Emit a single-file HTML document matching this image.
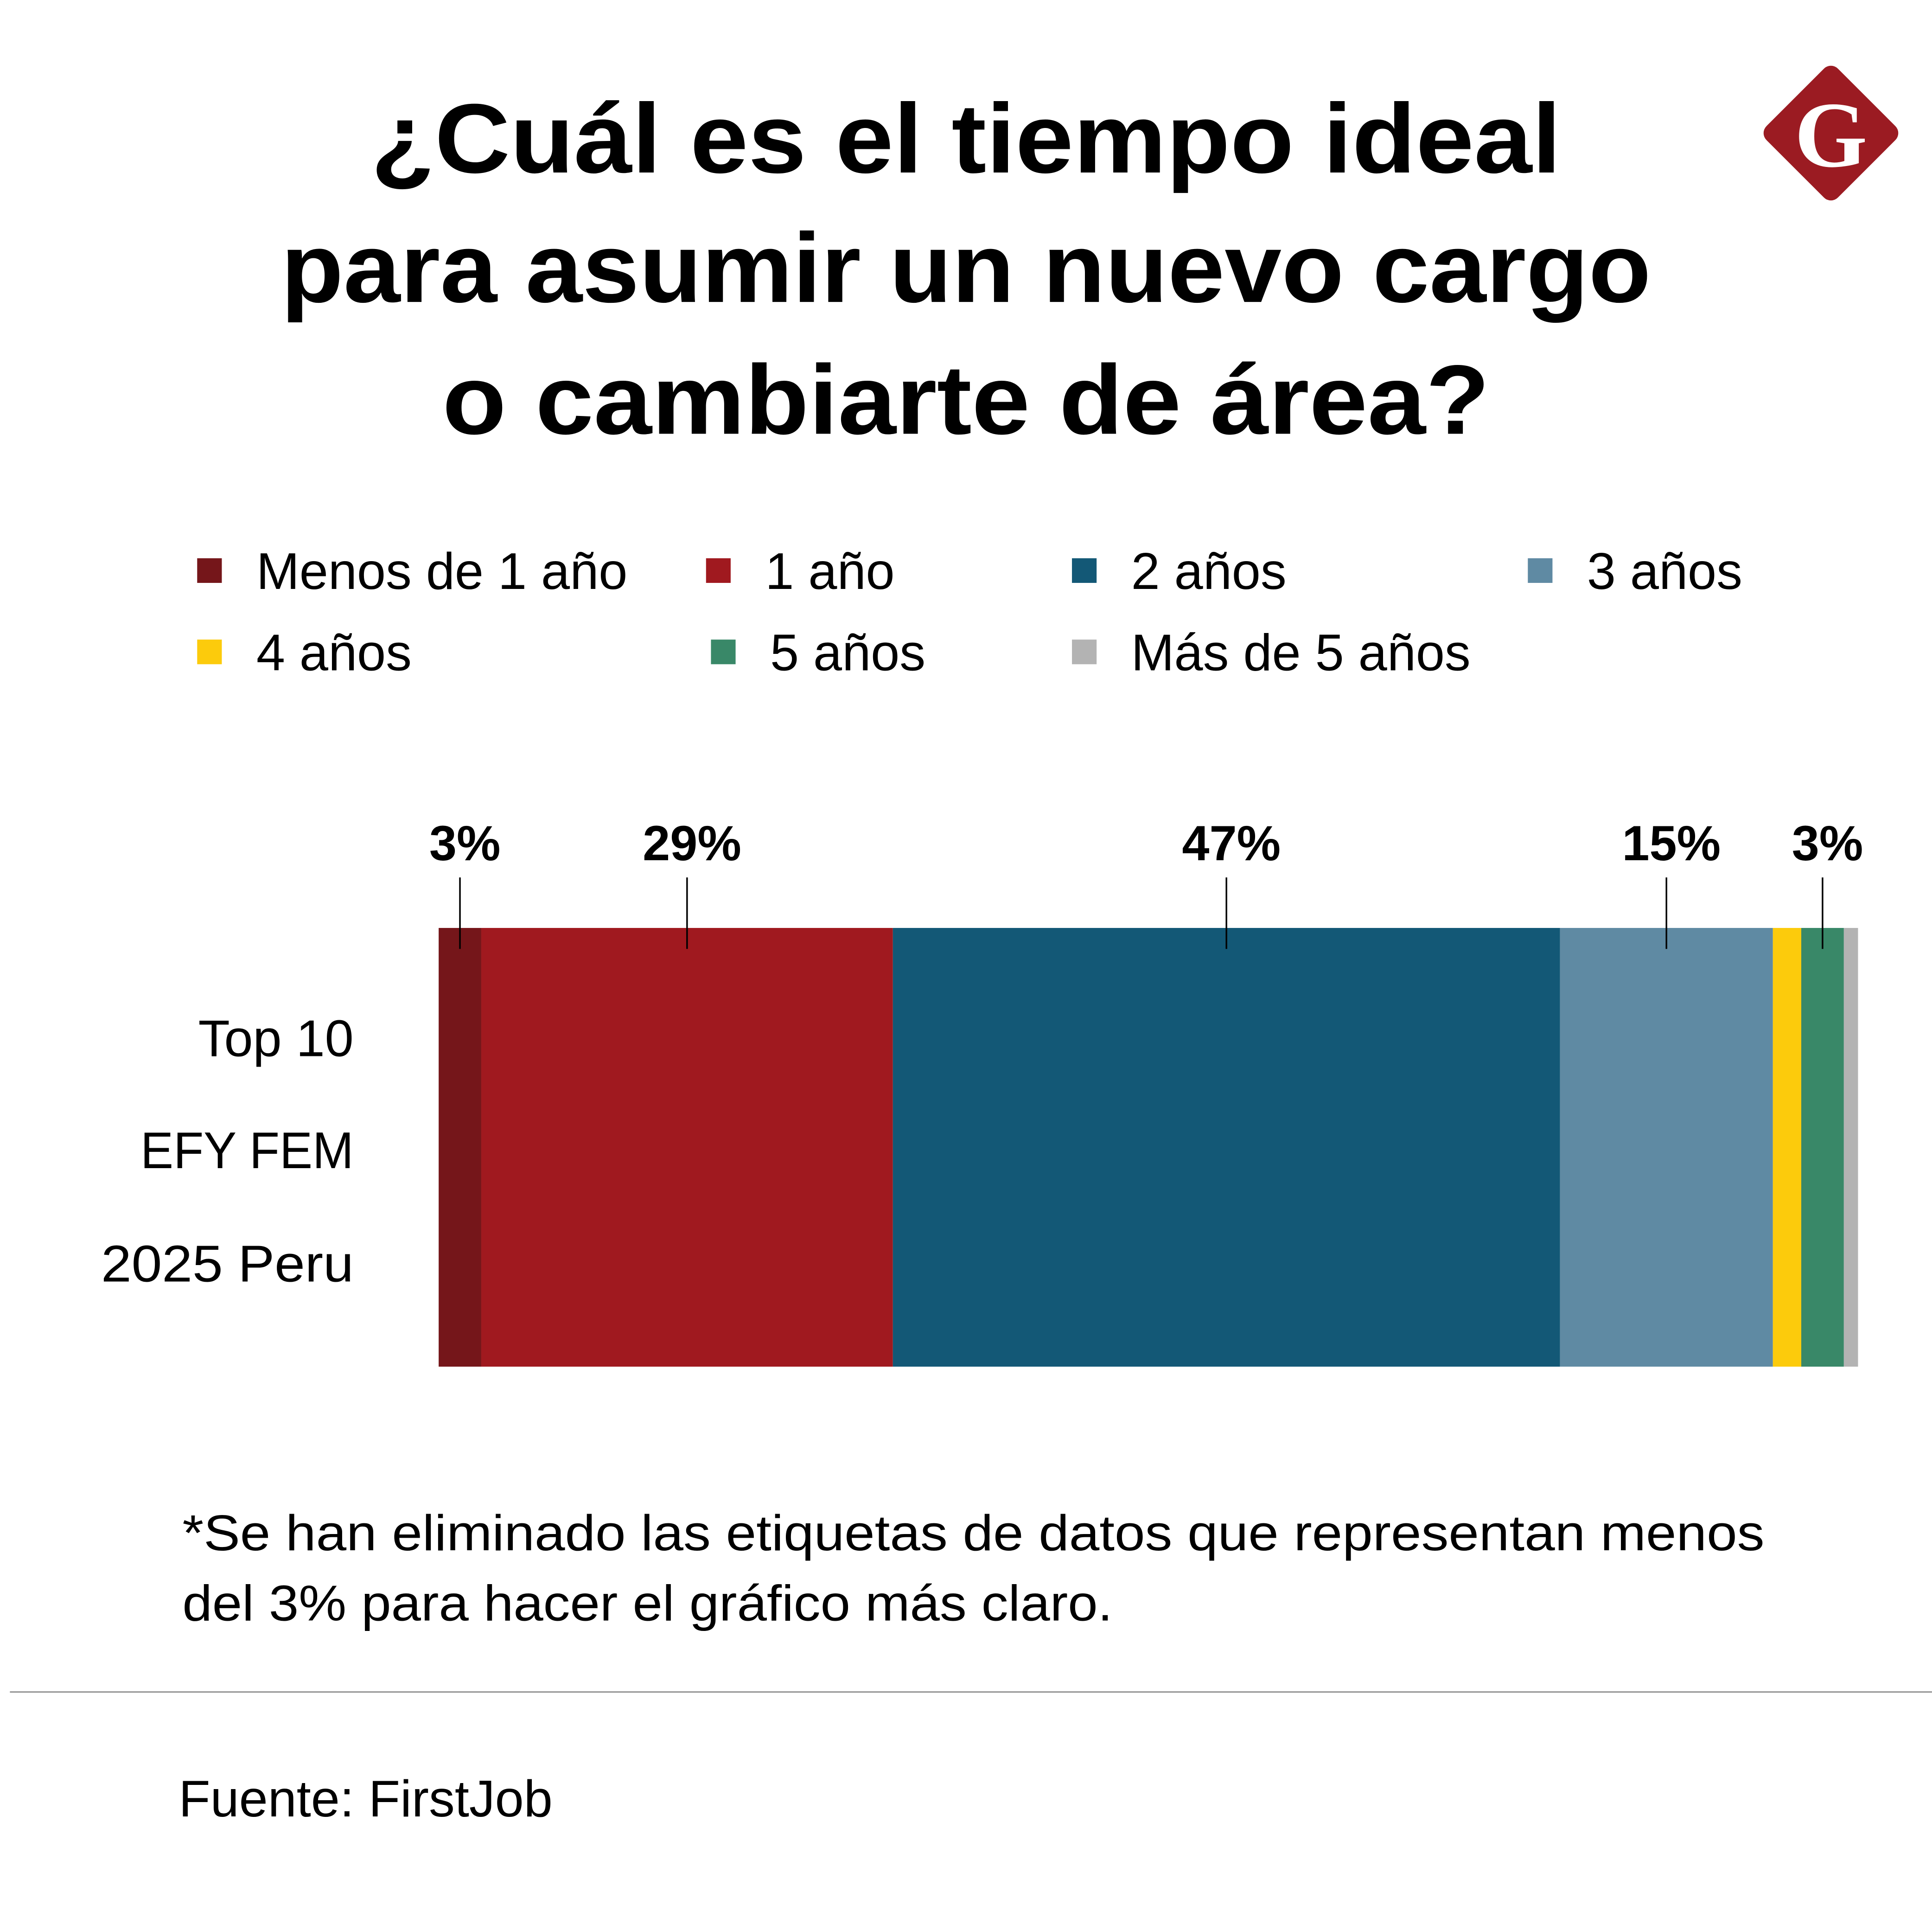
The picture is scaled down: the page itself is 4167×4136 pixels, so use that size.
<!DOCTYPE html>
<html><head><meta charset="utf-8">
<style>
html,body{margin:0;padding:0;background:#fff;}
svg{display:block;}
text{font-family:"Liberation Sans",sans-serif;}
</style></head>
<body>
<svg width="4167" height="4136" viewBox="0 0 1568 1556.4" xmlns="http://www.w3.org/2000/svg">
<rect width="1568" height="1556.4" fill="#fff"/>
<g font-weight="bold" font-size="80" text-anchor="middle" fill="#000">
<text x="784" y="140" textLength="966" lengthAdjust="spacingAndGlyphs">¿Cuál es el tiempo ideal</text>
<text x="784" y="245" textLength="1112" lengthAdjust="spacingAndGlyphs">para asumir un nuevo cargo</text>
<text x="784" y="352" textLength="850" lengthAdjust="spacingAndGlyphs">o cambiarte de área?</text>
</g>
<g>
<rect x="1445" y="67" width="82" height="82" rx="8" transform="rotate(45 1486 108)" fill="#9b1b22"/>
<text x="1486" y="135" text-anchor="middle" style="font-family:'Liberation Serif',serif;font-weight:bold" font-size="76" fill="#fff">G</text>
</g>
<g id="legend"></g>
<g id="cats" font-size="42" text-anchor="end" fill="#000">
<text x="287" y="857">Top 10</text>
<text x="287" y="948" textLength="173" lengthAdjust="spacingAndGlyphs">EFY FEM</text>
<text x="287" y="1040" textLength="205" lengthAdjust="spacingAndGlyphs">2025 Peru</text>
</g>
<g id="bars"></g>
<g font-size="41" fill="#000">
<text x="148" y="1258" textLength="1284" lengthAdjust="spacingAndGlyphs">*Se han eliminado las etiquetas de datos que representan menos</text>
<text x="148" y="1315" textLength="755" lengthAdjust="spacingAndGlyphs">del 3% para hacer el gráfico más claro.</text>
</g>
<line x1="8" y1="1373" x2="1568" y2="1373" stroke="#999" stroke-width="1.2"/>
<text x="145" y="1474" font-size="42" fill="#000">Fuente: FirstJob</text>
</svg>
<script>
const categories = ["Menos de 1 año","1 año","2 años","3 años","4 años","5 años","Más de 5 años"];
const values = [3, 29, 47, 15, 2, 3, 1];
const colors = ["#75161a","#a0191f","#135876","#5f8aa3","#fccb0c","#398868","#b3b3b3"];
const NS="http://www.w3.org/2000/svg";
const x0=356, x1=1508, y0=753, y1=1109;
const total=values.reduce((a,b)=>a+b,0);
const xs=v=>x0+(x1-x0)*v/total;
const bars=document.getElementById('bars');
let acc=0;
values.forEach((v,i)=>{
  const r=document.createElementNS(NS,'rect');
  
  
  r.setAttribute('x',xs(acc));r.setAttribute('y',y0);
  r.setAttribute('width',xs(acc+v)-xs(acc));r.setAttribute('height',y1-y0);
  r.setAttribute('fill',colors[i]);
  bars.appendChild(r);
  if(v>=3){
    const cx=(xs(acc)+xs(acc+v))/2;
    const l=document.createElementNS(NS,'line');
    
    
    l.setAttribute('x1',cx);l.setAttribute('x2',cx);l.setAttribute('y1',712);l.setAttribute('y2',770);
    l.setAttribute('stroke','#000');l.setAttribute('stroke-width','1.3');
    bars.appendChild(l);
    const t=document.createElementNS(NS,'text');
    
    
    t.setAttribute('x',cx+4);t.setAttribute('y',698);
    t.setAttribute('text-anchor','middle');t.setAttribute('font-size','40');t.setAttribute('font-weight','bold');
    t.textContent=v+'%';
    bars.appendChild(t);
  }
  acc+=v;
});
const lg=document.getElementById('legend');
const lx=[160,573,870,1240,160,577,870], ly=[463,463,463,463,529,529,529];
categories.forEach((c,i)=>{
  const g=document.createElementNS(NS,'g');
  
  
  const r=document.createElementNS(NS,'rect');
  r.setAttribute('x',lx[i]);r.setAttribute('y',ly[i]-10);r.setAttribute('width',20);r.setAttribute('height',20);
  r.setAttribute('fill',colors[i]);
  const t=document.createElementNS(NS,'text');
  t.setAttribute('x',lx[i]+48);t.setAttribute('y',ly[i]+15);t.setAttribute('font-size','42');
  t.textContent=c;
  g.appendChild(r);g.appendChild(t);lg.appendChild(g);
});
</script>
</body></html>
